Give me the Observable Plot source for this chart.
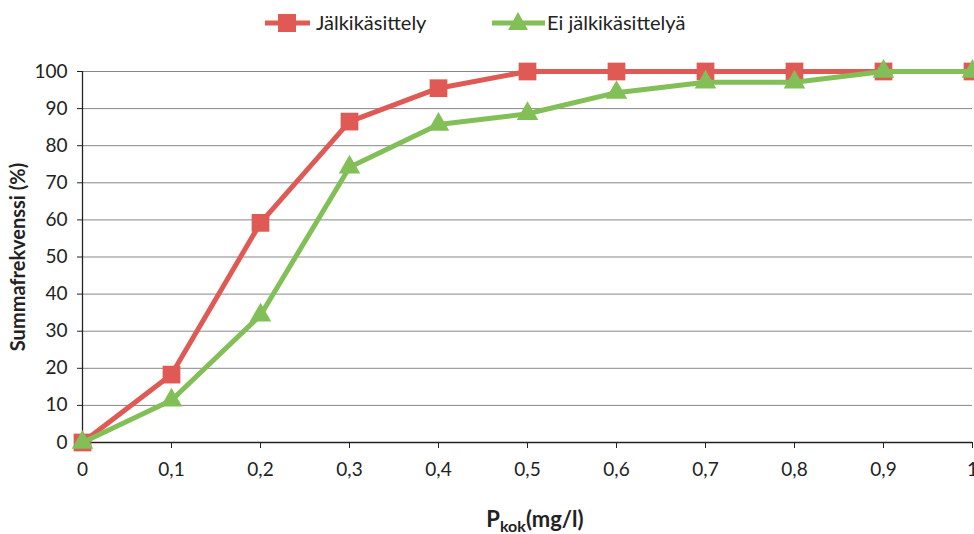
<!DOCTYPE html>
<html>
<head>
<meta charset="utf-8">
<script src="https://cdn.jsdelivr.net/npm/d3@7"></script>
<script src="https://cdn.jsdelivr.net/npm/@observablehq/plot@0.6"></script>
<style>
  body { margin: 0; background: #fff; font-family: Lato, "Open Sans", sans-serif; }
  #wrap { position: relative; width: 974px; height: 534px; overflow: hidden; }
  #legend { position: absolute; left: 0; top: 0; width: 974px; height: 48px; }
  #chart { position: absolute; left: 0; top: 48px; }
  #xtitle { position: absolute; left: 0; width: 1070px; top: 505px; text-align: center;
            font-weight: bold; font-size: 22px; color: #222; }
  #xtitle sub { font-size: 16px; vertical-align: -5px; }
  .lg { position: absolute; top: 10px; font-size: 20px; color: #222; }
  g[aria-label="y-axis label"] text { font-weight: bold; font-size: 20px; }
</style>
</head>
<body>
<div id="wrap">
  <div id="legend"></div>
  <div id="chart"></div>
  <div id="xtitle">P<sub>kok</sub>(mg/l)</div>
</div>
<script>
const xValues = [0, 0.1, 0.2, 0.3, 0.4, 0.5, 0.6, 0.7, 0.8, 0.9, 1];
const jalkikasittely = [0, 18.3, 59.2, 86.5, 95.5, 100, 100, 100, 100, 100, 100];
const eiJalkikasittelya = [0, 11.4, 34.3, 74.2, 85.7, 88.6, 94.3, 97.1, 97.1, 100, 100];
const seriesNames = ["Jälkikäsittely", "Ei jälkikäsittelyä"];
const colors = ["#E05A55", "#82BF56"];
const yTicks = [0, 10, 20, 30, 40, 50, 60, 70, 80, 90, 100];
const xTickLabels = ["0", "0,1", "0,2", "0,3", "0,4", "0,5", "0,6", "0,7", "0,8", "0,9", "1"];

const red = xValues.map((x, i) => ({x, y: jalkikasittely[i]}));
const green = xValues.map((x, i) => ({x, y: eiJalkikasittelya[i]}));

const chart = Plot.plot({
  width: 974,
  height: 450,
  marginLeft: 82,
  marginRight: 2,
  marginTop: 23,
  marginBottom: 56,
  style: { fontFamily: "Lato, 'Open Sans', sans-serif", fontSize: "19px", color: "#222", background: "#fff", overflow: "visible" },
  x: { domain: [0, 1] },
  y: { domain: [0, 100] },
  marks: [
    Plot.gridY(yTicks, { stroke: "#888", strokeOpacity: 1, strokeWidth: 1 }),
    Plot.axisY(yTicks, { tickSize: 5, tickPadding: 10, stroke: "#222", label: "Summafrekvenssi (%)", labelAnchor: "center", labelArrow: false, labelOffset: 72 }),
    Plot.axisX(xValues, { tickSize: 6, tickPadding: 14, stroke: "#222", label: null, tickFormat: (d, i) => xTickLabels[i] }),
    Plot.ruleX([0], { stroke: "#222", strokeWidth: 1.3 }),
    Plot.ruleY([0], { stroke: "#222", strokeWidth: 1.3 }),
    Plot.line(red, { x: "x", y: "y", stroke: colors[0], strokeWidth: 5 }),
    Plot.dot(red, { x: "x", y: "y", symbol: "square", r: 10, fill: colors[0], stroke: "none" }),
    Plot.line(green, { x: "x", y: "y", stroke: colors[1], strokeWidth: 5 }),
    Plot.dot(green, { x: "x", y: "y", symbol: "triangle", r: 8, fill: colors[1], stroke: "none" })
  ]
});
document.getElementById("chart").appendChild(chart);

// legend
const legend = document.getElementById("legend");
legend.innerHTML = `
<svg width="974" height="48" style="position:absolute;left:0;top:0">
  <line x1="265" x2="310" y1="23" y2="23" stroke="${colors[0]}" stroke-width="5"/>
  <rect x="278" y="14" width="18" height="18" fill="${colors[0]}"/>
  <line x1="492" x2="545" y1="23" y2="23" stroke="${colors[1]}" stroke-width="5"/>
  <path d="M518,12 L528,30 L508,30 Z" fill="${colors[1]}"/>
</svg>
<div class="lg" style="left:316px">${seriesNames[0]}</div>
<div class="lg" style="left:547px">${seriesNames[1]}</div>`;
</script>
</body>
</html>
